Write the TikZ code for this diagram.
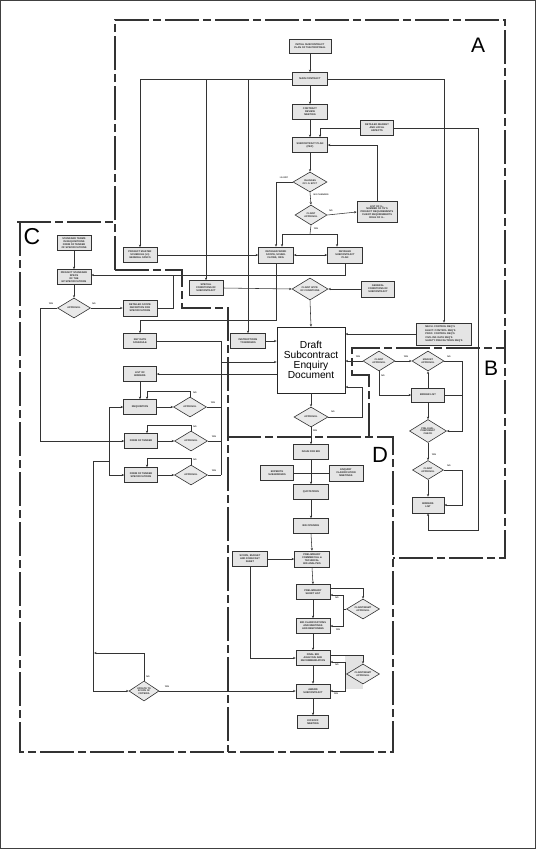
\documentclass[tikz,border=0pt]{standalone}
\usepackage{fontspec}
\setsansfont{Liberation Sans}
\usetikzlibrary{shapes.geometric,arrows.meta}
\tikzset{
 bx/.style 2 args={draw=black!80, fill=gray!20, line width=0.65pt, inner sep=0.3pt, align=center,
   minimum width=#1, minimum height=#2, text=black!85,
   font=\sffamily\bfseries\fontsize{2.5}{2.9}\selectfont},
 dm/.style 2 args={diamond, aspect=1.6, draw=black!80, fill=gray!17, line width=0.6pt, inner sep=0pt,
   align=center, minimum width=#1, minimum height=#2, text=black!85,
   font=\sffamily\bfseries\fontsize{2.4}{2.8}\selectfont},
 ln/.style={line width=0.55pt, draw=black!80},
 ar/.style={ln, -{Stealth[length=2.6pt,width=2.2pt]}},
 arb/.style={ln, {Stealth[length=2.6pt,width=2.2pt]}-{Stealth[length=2.6pt,width=2.2pt]}},
 lb/.style={font=\sffamily\bfseries\fontsize{2.2}{2.5}\selectfont, inner sep=0.5pt, text=black!85},
 rg/.style={line width=1.6pt, draw=black!80, dash pattern=on 34pt off 4pt on 8pt off 4pt},
 big/.style={font=\sffamily\fontsize{21}{21}\selectfont, inner sep=0pt}
}
\begin{document}
\begin{tikzpicture}[x=1pt,y=-1pt]
\useasboundingbox (0,0) rectangle (536,849);
\fill[white] (0,0) rectangle (536,849);
\draw[black!75, line width=1pt] (0.5,0.5) rectangle (535.5,848.5);

% region boundaries
\draw[rg] (115,270) -- (115,20) -- (505,20) -- (505,558) -- (393,558);
\draw[rg] (115,270) -- (182,270) -- (182,308) -- (228,308) -- (228,752);
\draw[rg] (17,222) -- (115,222);
\draw[rg] (20,222) -- (20,752) -- (393,752) -- (393,437) -- (228,437);
\draw[rg] (369,437) -- (369,375) -- (352,375) -- (352,348) -- (505,348);
\node[big] (lA) at (478,45) {A};
\node[big] (lB) at (491,368) {B};
\node[big, font=\sffamily\fontsize{23}{23}\selectfont] (lC) at (32,237) {C};
\node[big, font=\sffamily\fontsize{22}{22}\selectfont] (lD) at (380,455) {D};

% shaded area
\fill[gray!22] (345,655) rectangle (363,689);

% ---- region A nodes
\node[bx={42pt}{14pt}] (isp) at (310,46) {INITIAL SUBCONTRACT\\PLAN OF THE PROPOSAL};
\node[bx={35pt}{13pt}] (bid) at (310,79) {MAIN CONTRACT};
\node[bx={35pt}{15pt}] (crm) at (310,112) {CONTRACT\\REVIEW\\MEETING};
\node[bx={33pt}{15pt}] (dma) at (377,128) {DETAILED MARKET\\AND LOCAL\\ASPECTS};
\node[bx={35pt}{15pt}] (scp) at (310,145) {SUBCONTRACT PLAN\\(PEP)};
\node[dm={34pt}{20pt}] (d1) at (310,182) {CHANGES\\OF I.S. EPC?};
\node[dm={32pt}{20pt}] (d2) at (311,215) {CLIENT\\APPROVAL};
\node[bx={40pt}{21pt}] (lst) at (377,212) {LIST OF I.L.\\NUMBER OF TE'S\\PROJECT REQUIREMENTS\\CLIENT REQUIREMENTS\\ROLE OF I.L.};
\node[bx={35pt}{16pt}] (dws) at (276,255) {DETAILED WORK\\SCOPE, SCHED.\\FLOWS, ORG.};
\node[bx={35pt}{16pt}] (dsp) at (345,255) {DETAILED\\SUBCONTRACT\\PLAN};
\node[bx={34pt}{15pt}] (pms) at (140,255) {PROJECT MASTER\\SCHEDULE (L1)\\GENERAL SPECS};
\node[bx={34pt}{15pt}] (sct) at (206,288) {SPECIAL\\CONDITIONS OF\\SUBCONTRACT};
\node[dm={36pt}{22pt}] (dca) at (310,289) {CLIENT APPR.\\OF CONDITIONS};
\node[bx={33pt}{16pt}] (gcs) at (378,289) {GENERAL\\CONDITIONS OF\\SUBCONTRACT};

% ---- region C nodes
\node[bx={34pt}{15pt}] (stt) at (74,243) {STANDARD TERMS\\IN REQUISITIONS\\FORM OF TENDER\\OF SPECIFICATIONS};
\node[bx={34pt}{15pt}] (pss) at (74,277) {PROJECT STANDARD\\SPECS\\OF THE\\EP SPECIFICATIONS};
\node[dm={33pt}{20pt}] (apr) at (74,308) {APPROVAL};
\node[bx={34pt}{16pt}] (dsd) at (140,308) {DETAILED SCOPE\\DEFINITION FOR\\SPECIFICATIONS};
\node[bx={33pt}{15pt}] (kds) at (140,341) {KEY DATE\\SCHEDULE};
\node[bx={33pt}{15pt}] (lob) at (140,374) {LIST OF\\BIDDERS};
\node[bx={33pt}{15pt}] (req) at (140,407) {REQUISITION};
\node[dm={33pt}{20pt}] (ap1) at (190,407) {APPROVAL};
\node[bx={33pt}{15pt}] (fot) at (141,441) {FORM OF TENDER};
\node[dm={33pt}{20pt}] (ap2) at (191,441) {APPROVAL};
\node[bx={33pt}{15pt}] (fts) at (141,475) {FORM OF TENDER\\SPECIFICATIONS};
\node[dm={33pt}{20pt}] (ap3) at (191,475) {APPROVAL};
\node[bx={35pt}{15pt}] (itb) at (248,341) {INSTRUCTIONS\\TO BIDDERS};
\node[dm={30pt}{20pt}] (upd) at (144,691) {UPDATE TO\\SCOPE OF\\CRITERIA};

% ---- central
\node[draw=black!85, fill=white, line width=0.7pt, minimum width=68pt, minimum height=66pt, inner sep=0pt,
  align=center, font=\sffamily\fontsize{10.2}{10.2}\selectfont] (draft) at (311,360)
  {Draft\\Subcontract\\Enquiry\\Document};
\node[bx={55pt}{22pt}, font=\sffamily\bfseries\fontsize{2.5}{3.6}\selectfont, align=left] (mech) at (444,334)
  {MECH. CONTROL REQ'S\\ELECT. CONTROL REQ'S\\PROC. CONTROL REQ'S\\CIVIL INF. DATA REQ'S\\SAFETY PRECAUTIONS REQ'S};

% ---- region B nodes
\node[dm={32pt}{20pt}] (b1) at (379,361) {CLIENT\\APPROVAL};
\node[dm={32pt}{20pt}] (b2) at (428,361) {MARKET\\APPROVAL};
\node[bx={33pt}{14pt}] (bl) at (428,395) {BIDDER LIST};
\node[dm={37pt}{23pt}] (pq) at (428,431) {PRE-QUAL.\\PREPARED?\\CHECK};
\node[dm={31pt}{19pt}] (b3) at (428,470) {CLIENT\\APPROVAL};
\node[bx={32pt}{16pt}] (bds) at (428,505) {BIDDERS\\LIST};

% ---- region D nodes
\node[dm={34pt}{20pt}] (apd) at (311,417) {APPROVAL};
\node[bx={35pt}{15pt}] (ifb) at (311,452) {ISSUE FOR BID};
\node[bx={33pt}{15pt}] (exs) at (277,473) {EXPEDITE\\SUB-BIDDERS};
\node[bx={34pt}{16pt}] (ecm) at (346,473) {ENQUIRY\\CLARIFICATION\\MEETINGS};
\node[bx={35pt}{15pt}] (quo) at (311,492) {QUOTATIONS};
\node[bx={35pt}{15pt}] (bop) at (311,526) {BID OPENING};
\node[bx={35pt}{15pt}] (sbf) at (250,559) {SCOPE, BUDGET\\AND FORECAST\\SHEET};
\node[bx={35pt}{16pt}] (pct) at (312,559) {PRELIMINARY\\COMMERCIAL \&\\TECHNICAL\\BID ANALYSIS};
\node[bx={34pt}{15pt}] (psl) at (313,592) {PRELIMINARY\\SHORT LIST};
\node[dm={33pt}{20pt}] (cm1) at (363,609) {CLIENT/MGMT\\APPROVAL};
\node[bx={34pt}{15pt}] (bcm) at (313,626) {BID CLARIFICATIONS\\AND MEETINGS\\AND RESPONSES};
\node[bx={34pt}{15pt}] (fba) at (313,658) {FINAL BID\\ANALYSIS AND\\RECOMMENDATION};
\node[dm={33pt}{20pt}] (cm2) at (363,674) {CLIENT/MGMT\\APPROVAL};
\node[bx={34pt}{14pt}] (aws) at (313,691) {AWARD\\SUBCONTRACT};
\node[bx={31pt}{13pt}] (kom) at (313,722) {KICKOFF\\MEETING};

% ---- helper coordinates
\coordinate (k1) at (320,0);
\coordinate (k2) at (478,530);
\coordinate (k3) at (310,234);
\coordinate (k4) at (282,234);
\coordinate (k5) at (337,234);
\coordinate (k6) at (0,275);
\coordinate (k7) at (173,275);
\coordinate (k8) at (40,0);
\coordinate (k9) at (0,320);
\coordinate (k10) at (221,475);
\coordinate (k11) at (221,362);
\coordinate (k12) at (147,391);
\coordinate (k13) at (147,425);
\coordinate (k14) at (147,458);
\coordinate (k15) at (109,407);
\coordinate (k16) at (109,475);
\coordinate (k17) at (109,461);
\coordinate (k18) at (93,461);
\coordinate (k20) at (94,653);
\coordinate (k21) at (462,0);
\coordinate (k22) at (362,387);
\coordinate (k23) at (0,588);
\coordinate (k24) at (343,609);
\coordinate (k25) at (0,595);
\coordinate (k26) at (0,655);
\coordinate (k27) at (345,674);
\coordinate (k28) at (0,662);

% ---- connectors A
\draw[ar] (isp.south) -- (bid.north);
\draw[ar] (bid.south) -- (crm.north);
\draw[ar] (crm.south) -- (scp.north);
\draw[ar] (bid.west) -| (pms.north);
\draw[ar] (bid.west -| sct.north) -- (sct.north);
\draw[ar] (bid.west -| itb.north) -- (itb.north);
\draw[ar] (bid.east) -| (mech.north);
\draw[ar] (dma.west) -| (k1 |- scp.north);
\draw[ar] (dma.east) -| (k2) -| (bds.south);
\draw[ar] (scp.south) -- (d1.north);
\draw[ar] (d1.south) -- (d2.north);
\draw[ar] (d1.west) -| (dws.north);
\draw[ar] (d2.east) -- (lst.west);
\draw[ar] (lst.north) |- (scp.east);
\draw[ln] (d2.south) -- (k3);
\draw[ln] (k4) -- (k5);
\draw[ar] (k4) -- (k4 |- dws.north);
\draw[ar] (k5) -- (k5 |- dsp.north);
\draw[arb] (dws.east) -- (dsp.west);
\draw[ar] (pms.east) -- (dws.west);
\draw[ar] (dsp.south) |- (k6 -| pss.east);
\draw[ln] (dsd.east) -| (k7);
\draw[ar] (sct.east) -- (dca.west);
\draw[ar] (gcs.west) -- (dca.east);
\draw[ar] (dca.south) -- (draft.north);
\draw[ar] (dws.south) |- (k9 -| kds.north) -- (kds.north);

% ---- connectors C
\draw[ar] (stt.south) -- (pss.north);
\draw[ar] (pss.south) -- (apr.north);
\draw[ar] (apr.east) -- (dsd.west);
\draw[ar] (apr.west) -| (k8 |- fot.west) -- (fot.west);
\draw[ar] (itb.east) -- (itb.east -| draft.west);
\draw[ln] (kds.east) -| (k10);
\draw[ln] (ap1.east) -- (ap1.east -| k10);
\draw[ln] (ap2.east) -- (ap2.east -| k10);
\draw[ln] (ap3.east) -- (k10);
\draw[ar] (k11) -- (k11 -| draft.west);
\draw[ar] (draft.west |- lob.east) -- (lob.east);
\draw[ar] (lob.south) -- (req.north);
\draw[ar] (req.east) -- (ap1.west);
\draw[ar] (fot.east) -- (ap2.west);
\draw[ar] (fts.east) -- (ap3.west);
\draw[ar] (ap1.north) |- (k12) -- (k12 |- req.north);
\draw[ar] (ap2.north) |- (k13) -- (k13 |- fot.north);
\draw[ar] (ap3.north) |- (k14) -- (k14 |- fts.north);
\draw[ln] (k15) -- (k16);
\draw[ar] (k15) -- (req.west);
\draw[ar] (k16) -- (fts.west);
\draw[ar] (k17) -- (k18) |- (upd.west);
\draw[ar] (upd.north) |- (k20);
\draw[ar] (upd.east) -- (aws.west);

% ---- connectors B
\draw[ar] (mech.west) -- (mech.west -| draft.east);
\draw[ar] (b1.west) -- (b1.west -| draft.east);
\draw[ar] (b1.east) -- (b2.west);
\draw[ar] (b2.east) -| (k21 |- pq.east) -- (pq.east);
\draw[ln] (bl.east) -- (bl.east -| k21);
\draw[ar] (b1.south) |- (bl.west);
\draw[ar] (bl.north) -- (b2.south);
\draw[ar] (bl.south) -- (pq.north);
\draw[ar] (pq.south) -- (b3.north);
\draw[ar] (b3.east) -| (k21 |- b3.east) |- (bds.east);
\draw[ar] (b3.south) -- (bds.north);

% ---- connectors D
\draw[ar] (apd.east) -| (k22) -- (k22 -| draft.east);
\draw[ar] (draft.south) -- (apd.north);
\draw[ar] (apd.south) -- (ifb.north);
\draw[ar] (ifb.south) -- (quo.north);
\draw[ln] (exs.east) -- (ecm.west);
\draw[ar] (quo.south) -- (bop.north);
\draw[ar] (bop.south) -- (pct.north);
\draw[ar] (sbf.east) -- (pct.west);
\draw[ar] (sbf.south) |- (fba.west);
\draw[ar] (pct.south) -- (psl.north);
\draw[ar] (k23 -| psl.east) -| (cm1.north);
\draw[ln] (cm1.west) -- (k24);
\draw[ar] (k24) |- (k25 -| psl.east);
\draw[ar] (k24) |- (bcm.east);
\draw[ar] (psl.south) -- (bcm.north);
\draw[ar] (bcm.south) -- (fba.north);
\draw[ar] (k26 -| fba.east) -| (cm2.north);
\draw[ln] (cm2.west) -- (k27);
\draw[ar] (k27) |- (k28 -| fba.east);
\draw[ar] (k27) |- (aws.east);
\draw[ar] (fba.south) -- (aws.north);
\draw[ar] (aws.south) -- (kom.north);

% ---- labels
\node[lb] (t1) at (284,178) {I.S. EPC};
\node[lb, anchor=west] (t2) at (313,195) {NO CHANGES};
\node[lb] (t3) at (331,211) {NO};
\node[lb] (t4) at (316,229) {YES};
\node[lb] (t5) at (94,304) {NO};
\node[lb] (t6) at (51,304) {YES};
\node[lb] (t7) at (195,393) {NO};
\node[lb] (t8) at (213,403) {YES};
\node[lb] (t9) at (195,427) {NO};
\node[lb] (t10) at (214,437) {YES};
\node[lb] (t11) at (195,460) {NO};
\node[lb] (t12) at (214,471) {YES};
\node[lb] (t13) at (148,677) {NO};
\node[lb] (t14) at (167,687) {YES};
\node[lb] (t15) at (358,357) {YES};
\node[lb] (t16) at (406,357) {YES};
\node[lb] (t17) at (449,357) {NO};
\node[lb] (t18) at (383,376) {NO};
\node[lb] (t19) at (434,455) {YES};
\node[lb] (t20) at (449,466) {NO};
\node[lb] (t21) at (333,412) {NO};
\node[lb] (t22) at (315,431) {YES};
\node[lb] (t23) at (337,598) {NO};
\node[lb] (t24) at (338,630) {YES};
\node[lb] (t25) at (337,665) {NO};
\node[lb] (t26) at (336,694) {YES};
\end{tikzpicture}
\end{document}
